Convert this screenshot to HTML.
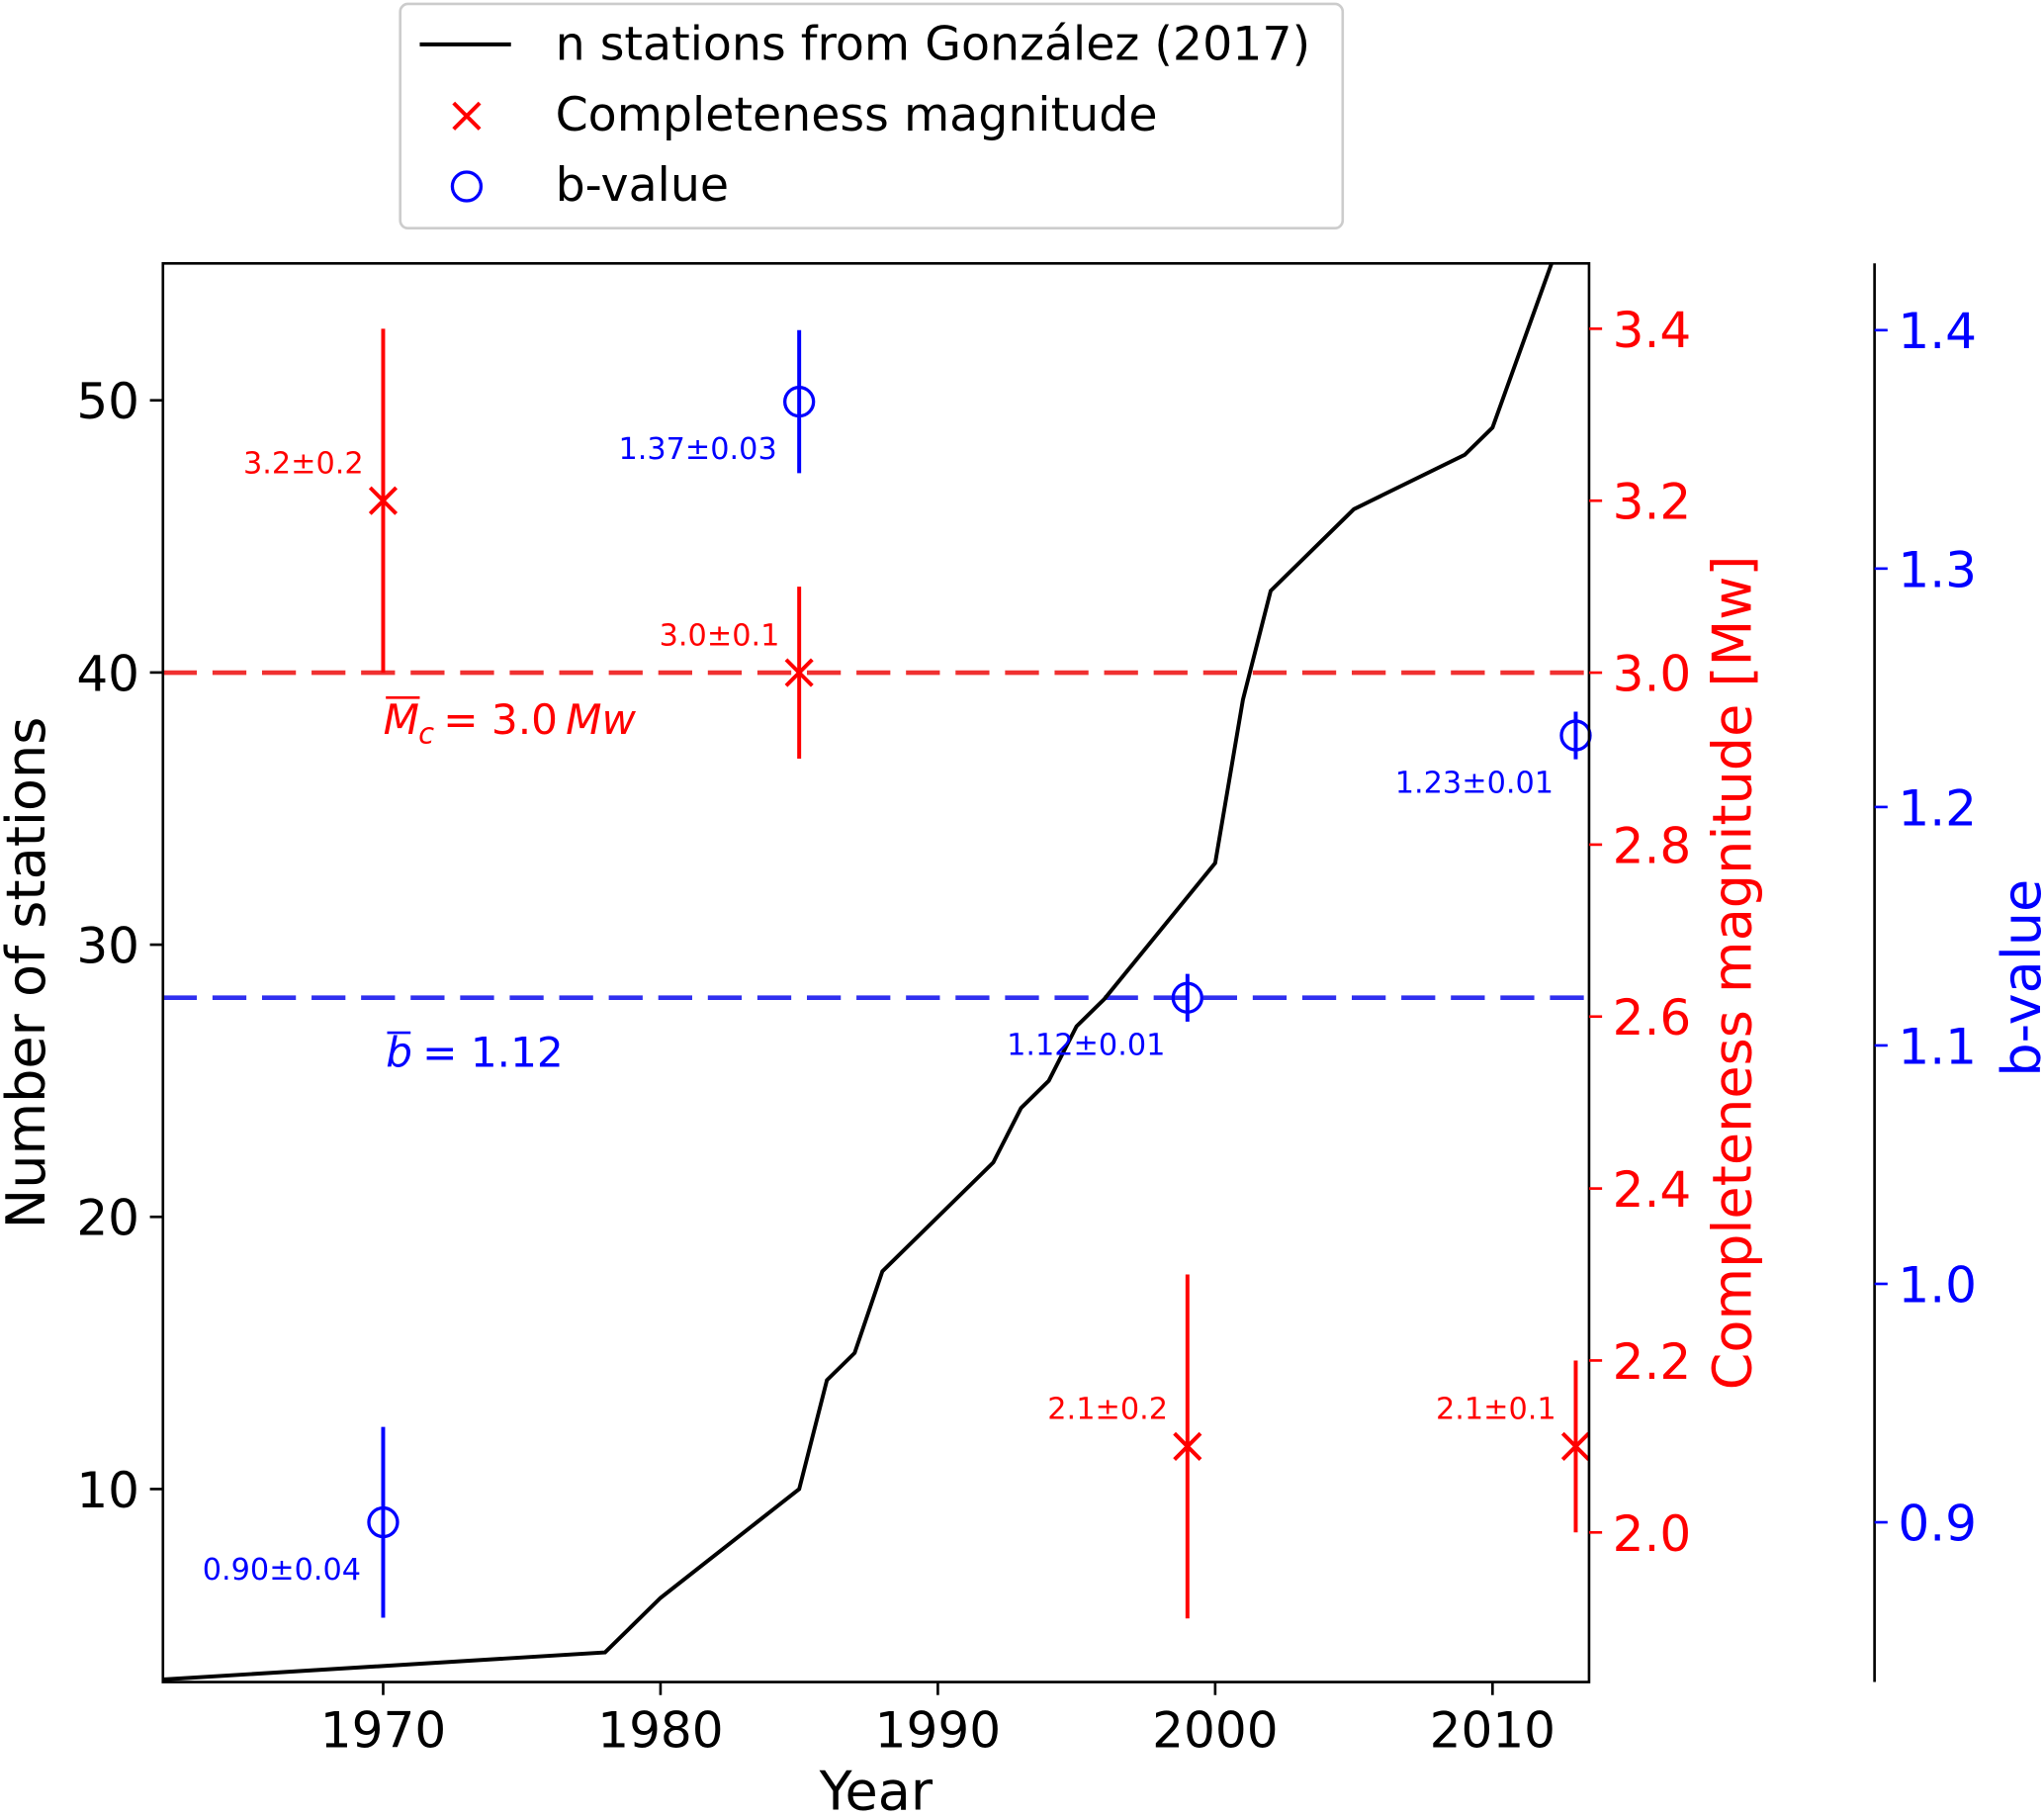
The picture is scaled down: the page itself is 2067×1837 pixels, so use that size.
<!DOCTYPE html>
<html><head><meta charset="utf-8"><style>html,body{margin:0;padding:0;background:#fff}svg{display:block}text{font-family:"DejaVu Sans","Liberation Sans",sans-serif}</style></head>
<body>
<svg id="chart" width="2067" height="1837" viewBox="0 0 1568 1393.5" xmlns="http://www.w3.org/2000/svg">
<g id="g"></g>
</svg>
<script>
const stationYears=[1962,1978,1980,1985,1986,1987,1988,1992,1993,1994,1995,1996,2000,2001,2002,2005,2009,2010,2013];
const stationCounts=[3,4,6,10,14,15,18,22,24,25,27,28,33,39,43,46,48,49,57.5];
const mcYears=[1970,1985,1999,2013];
const mcValues=[3.2,3.0,2.1,2.1];
const mcLow=[3.0,2.9,1.9,2.0];
const mcHigh=[3.4,3.1,2.3,2.2];
const mcLabels=["3.2±0.2","3.0±0.1","2.1±0.2","2.1±0.1"];
const bYears=[1970,1985,1999,2013];
const bValues=[0.90,1.37,1.12,1.23];
const bLow=[0.86,1.34,1.11,1.22];
const bHigh=[0.94,1.40,1.13,1.24];
const bLabels=["0.90±0.04","1.37±0.03","1.12±0.01","1.23±0.01"];
const xTicks=[1970,1980,1990,2000,2010];
const yTicks=[10,20,30,40,50];
const mcTicks=[2.0,2.2,2.4,2.6,2.8,3.0,3.2,3.4];
const bTicks=[0.9,1.0,1.1,1.2,1.3,1.4];
const meanMc=3.0, meanB=1.12;

const L=125,R=1219,T=202,B=1290,BX=1438;
const X=v=>L+(v-1962.06)/(2013.48-1962.06)*(R-L);
const Y=v=>B-(v-2.91)/(55.03-2.91)*(B-T);
const YM=v=>B-(v-1.826)/(3.476-1.826)*(B-T);
const YB=v=>B-(v-0.833)/(1.428-0.833)*(B-T);
const g=document.getElementById('g');
const NS='http://www.w3.org/2000/svg';
function el(t,a,txt){const e=document.createElementNS(NS,t);for(const k in a)e.setAttribute(k,a[k]);if(txt!==undefined)e.textContent=txt;g.appendChild(e);return e;}
const RED='#ff0000',BLUE='#0000ff',BLK='#000';

const defs=el('defs',{});
const cp=document.createElementNS(NS,'clipPath');cp.setAttribute('id','clip');
const cr=document.createElementNS(NS,'rect');cr.setAttribute('x',L);cr.setAttribute('y',T);cr.setAttribute('width',R-L);cr.setAttribute('height',B-T);
cp.appendChild(cr);defs.appendChild(cp);

let e=el('line',{x1:L,x2:R,y1:YM(meanMc),y2:YM(meanMc),stroke:'#f03030',"stroke-width":3.5,"stroke-dasharray":"26,12"});

e=el('line',{x1:L,x2:R,y1:YB(meanB),y2:YB(meanB),stroke:'#3030f0',"stroke-width":3.5,"stroke-dasharray":"26,12"});


e=el('polyline',{points:stationYears.map((v,i)=>X(v)+','+Y(stationCounts[i])).join(' '),fill:'none',stroke:BLK,"stroke-width":3,"clip-path":'url(#clip)'});


mcYears.forEach((yr,i)=>{
 const x=X(yr),y=YM(mcValues[i]);
 let a=el('line',{x1:x,x2:x,y1:YM(mcLow[i]),y2:YM(mcHigh[i]),stroke:RED,"stroke-width":3});
 
 let m=el('path',{d:`M${x-10},${y-10}L${x+10},${y+10}M${x-10},${y+10}L${x+10},${y-10}`,stroke:RED,"stroke-width":3});
 
 let t=el('text',{x:x-15,y:y-21,fill:RED,"font-size":23,"text-anchor":'end'},mcLabels[i]);
 
});
bYears.forEach((yr,i)=>{
 const x=X(yr),y=YB(bValues[i]);
 let a=el('line',{x1:x,x2:x,y1:YB(bLow[i]),y2:YB(bHigh[i]),stroke:BLUE,"stroke-width":3});
 
 let m=el('circle',{cx:x,cy:y,r:11,fill:'none',stroke:BLUE,"stroke-width":2.5});
 
 let t=el('text',{x:x-17,y:y+44,fill:BLUE,"font-size":23,"text-anchor":'end'},bLabels[i]);
 
});

e=el('text',{x:294,y:563,fill:RED,"font-size":32,"font-style":'italic'},'M');
el('line',{x1:296,x2:322,y1:535,y2:535,stroke:RED,"stroke-width":2});
el('text',{x:321,y:570,fill:RED,"font-size":22,"font-style":'italic'},'c');
el('text',{x:340,y:563,fill:RED,"font-size":32},'= 3.0');
el('text',{x:434,y:563,fill:RED,"font-size":32,"font-style":'italic'},'Mw');
e=el('text',{x:296,y:818,fill:BLUE,"font-size":32,"font-style":'italic'},'b');
el('line',{x1:297,x2:315,y1:792,y2:792,stroke:BLUE,"stroke-width":2});
el('text',{x:324,y:818,fill:BLUE,"font-size":32},'= 1.12');

el('rect',{x:L,y:T,width:R-L,height:B-T,fill:'none',stroke:BLK,"stroke-width":2});
el('line',{x1:BX,x2:BX,y1:T,y2:B,stroke:BLK,"stroke-width":2});

xTicks.forEach(v=>{const x=X(v);el('line',{x1:x,x2:x,y1:B,y2:B+10,stroke:BLK,"stroke-width":2});
 let t=el('text',{x:x,y:B+50,"font-size":38,"text-anchor":'middle'},v);});
yTicks.forEach(v=>{const y=Y(v);el('line',{x1:L-10,x2:L,y1:y,y2:y,stroke:BLK,"stroke-width":2});
 let t=el('text',{x:L-18,y:y+14,"font-size":38,"text-anchor":'end'},v);});
mcTicks.forEach(v=>{const y=YM(v);el('line',{x1:R,x2:R+10,y1:y,y2:y,stroke:RED,"stroke-width":2});
 let t=el('text',{x:R+18,y:y+14,"font-size":38,fill:RED},v.toFixed(1));});
bTicks.forEach(v=>{const y=YB(v);el('line',{x1:BX,x2:BX+10,y1:y,y2:y,stroke:BLUE,"stroke-width":2});
 let t=el('text',{x:BX+18,y:y+14,"font-size":38,fill:BLUE},v.toFixed(1));});

e=el('text',{x:672,y:1388,"font-size":41,"text-anchor":'middle'},'Year');
e=el('text',{x:0,y:0,"font-size":41,"text-anchor":'middle',transform:'translate(34,746) rotate(-90)'},'Number of stations');
e=el('text',{x:0,y:0,"font-size":41,fill:RED,"text-anchor":'middle',transform:'translate(1343,746) rotate(-90)'},'Completeness magnitude [Mw]');
e=el('text',{x:0,y:0,"font-size":41,fill:BLUE,"text-anchor":'middle',transform:'translate(1565,750) rotate(-90)'},'b-value');

e=el('rect',{x:307,y:3,width:723,height:172,rx:6,fill:'#fff',stroke:'#ccc',"stroke-width":2});
el('line',{x1:322,x2:392,y1:34,y2:34,stroke:BLK,"stroke-width":3});
e=el('text',{x:426,y:46,"font-size":36},'n stations from González (2017)');
el('path',{d:'M348,79L368,99M348,99L368,79',stroke:RED,"stroke-width":3});
e=el('text',{x:426,y:100,"font-size":36},'Completeness magnitude');
el('circle',{cx:358,cy:143,r:11,fill:'none',stroke:BLUE,"stroke-width":2.5});
e=el('text',{x:426,y:154,"font-size":36},'b-value');
</script>
</body></html>
